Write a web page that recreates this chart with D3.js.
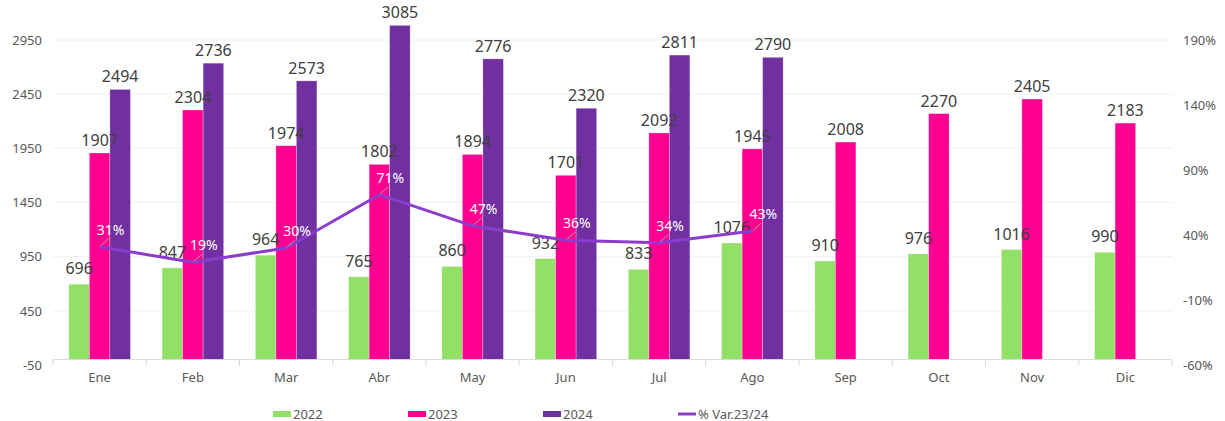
<!DOCTYPE html>
<html>
<head>
<meta charset="utf-8">
<script src="https://cdn.jsdelivr.net/npm/d3@7"></script>
<style>
  body { margin: 0; background: #fff; }
  svg { display: block; font-family: "Noto Sans", "Open Sans", sans-serif; }
</style>
</head>
<body>
<svg width="1225" height="421"></svg>
<script>
// data
var months = ["Ene", "Feb", "Mar", "Abr", "May", "Jun", "Jul", "Ago", "Sep", "Oct", "Nov", "Dic"];
var series = ["2022", "2023", "2024"];
var v2022 = [696, 847, 964, 765, 860, 932, 833, 1076, 910, 976, 1016, 990];
var v2023 = [1907, 2304, 1974, 1802, 1894, 1701, 2092, 1945, 2008, 2270, 2405, 2183];
var v2024 = [2494, 2736, 2573, 3085, 2776, 2320, 2811, 2790];
var variacion = [31, 19, 30, 71, 47, 36, 34, 43];
var leftTicks = [-50, 450, 950, 1450, 1950, 2450, 2950];
var rightTicks = [-60, -10, 40, 90, 140, 190];
var lineName = "% Var.23/24";

var colors = { "2022": "#92e068", "2023": "#ff0090", "2024": "#7030a0" };
var lineColor = "#8b3ccc";

var svg = d3.select("svg");

var x = d3.scaleBand().domain(months).range([53, 1172]).padding(0);
var y = d3.scaleLinear().domain([-50, 2950]).range([365, 40]);
var yR = d3.scaleLinear().domain([-60, 190]).range([365, 40]);
var groupW = x.bandwidth() * 0.66;
var x1 = d3.scaleBand().domain(series).range([-groupW / 2, groupW / 2]);

// gridlines
svg.append("g").selectAll("line")
  .data(leftTicks.filter(function (t) { return t > 0; }))
  .join("line")
  .attr("x1", 53).attr("x2", 1172)
  .attr("y1", function (d) { return y(d); })
  .attr("y2", function (d) { return y(d); })
  .attr("stroke", "#f0f0f0").attr("stroke-width", 1);

// left axis
var leftAxis = d3.axisLeft(y).tickValues(leftTicks).tickSize(0).tickPadding(0)
  .tickFormat(function (d) { return String(d); });
var gl = svg.append("g").attr("transform", "translate(42,0)").call(leftAxis);
gl.select(".domain").remove();
gl.selectAll("text").attr("font-size", 13).attr("fill", "#595959")
  .attr("font-family", "Noto Sans");

// right axis
var rightAxis = d3.axisRight(yR).tickValues(rightTicks).tickSize(0).tickPadding(0)
  .tickFormat(function (d) { return String(d) + "%"; });
var gr = svg.append("g").attr("transform", "translate(1183,0)").call(rightAxis);
gr.select(".domain").remove();
gr.selectAll("text").attr("font-size", 13).attr("fill", "#595959")
  .attr("font-family", "Noto Sans");

// rows
var rows = months.map(function (m, i) {
  return { month: m, "2022": v2022[i], "2023": v2023[i], "2024": v2024[i] };
});

// bars
var groups = svg.append("g").selectAll("g")
  .data(rows).join("g")
  .attr("transform", function (d) { return "translate(" + (x(d.month) + x.bandwidth() / 2) + ",0)"; });

groups.selectAll("rect")
  .data(function (d) {
    return series.filter(function (s) { return d[s] != null; })
      .map(function (s) { return { key: s, value: d[s] }; });
  })
  .join("rect")
  .attr("x", function (d) { return x1(d.key); })
  .attr("width", x1.bandwidth())
  .attr("y", function (d) { return y(d.value); })
  .attr("height", function (d) { return y(0) - y(d.value); })
  .attr("fill", function (d) { return colors[d.key]; })
  .attr("stroke", "rgba(255,255,255,0.35)").attr("stroke-width", 0.8);

// bar labels
groups.selectAll("text")
  .data(function (d) {
    return series.filter(function (s) { return d[s] != null; })
      .map(function (s) { return { key: s, value: d[s] }; });
  })
  .join("text")
  .attr("x", function (d) { return x1(d.key) + x1.bandwidth() / 2; })
  .attr("y", function (d) { return y(d.value) - (d.key === "2022" ? 10 : 7); })
  .attr("text-anchor", "middle")
  .attr("font-size", 16)
  .attr("fill", "#404040")
  .text(function (d) { return d.value; });

// x axis
var xAxisY = y(0);
svg.append("line")
  .attr("x1", 53).attr("x2", 1172)
  .attr("y1", xAxisY).attr("y2", xAxisY)
  .attr("stroke", "#d9d9d9").attr("stroke-width", 1);
svg.append("g").selectAll("line")
  .data(months.concat(["end"]))
  .join("line")
  .attr("x1", function (d, i) { return 53 + i * x.step(); })
  .attr("x2", function (d, i) { return 53 + i * x.step(); })
  .attr("y1", xAxisY).attr("y2", xAxisY + 6)
  .attr("stroke", "#d9d9d9");
svg.append("g").selectAll("text")
  .data(months).join("text")
  .attr("x", function (d) { return x(d) + x.bandwidth() / 2; })
  .attr("y", xAxisY + 22)
  .attr("text-anchor", "middle")
  .attr("font-size", 13)
  .attr("fill", "#595959")
  .text(function (d) { return d; });

// variation line
var linePts = variacion.map(function (v, i) { return { month: months[i], value: v }; });
var line = d3.line()
  .x(function (d) { return x(d.month) + x.bandwidth() / 2; })
  .y(function (d) { return yR(d.value); });
svg.append("path")
  .datum(linePts)
  .attr("d", line)
  .attr("fill", "none")
  .attr("stroke", lineColor)
  .attr("stroke-width", 3)
  .attr("stroke-linejoin", "round");

// leader lines + % labels
svg.append("g").selectAll("line")
  .data(linePts).join("line")
  .attr("x1", function (d) { return x(d.month) + x.bandwidth() / 2 + 1; })
  .attr("y1", function (d) { return yR(d.value) - 1; })
  .attr("x2", function (d) { return x(d.month) + x.bandwidth() / 2 + 9; })
  .attr("y2", function (d) { return yR(d.value) - 8; })
  .attr("stroke", "#a6a6a6").attr("stroke-width", 1);
svg.append("g").selectAll("text")
  .data(linePts).join("text")
  .attr("x", function (d) { return x(d.month) + x.bandwidth() / 2 + 11; })
  .attr("y", function (d) { return yR(d.value) - 12; })
  .attr("text-anchor", "middle")
  .attr("font-size", 14)
  .attr("fill", "#ffffff")
  .text(function (d) { return d.value + "%"; });

// legend
var legendItems = series.concat([lineName]);
var legend = svg.append("g").selectAll("g")
  .data(legendItems).join("g")
  .attr("transform", function (d, i) { return "translate(" + (273 + i * 135) + ",414)"; });
legend.append("rect")
  .attr("x", 0).attr("y", function (d) { return d === lineName ? -1.5 : -3; })
  .attr("width", 18).attr("height", function (d) { return d === lineName ? 3 : 6; })
  .attr("fill", function (d) { return d === lineName ? lineColor : colors[d]; });
legend.append("text")
  .attr("x", 20).attr("y", 4.5)
  .attr("font-size", 13)
  .attr("fill", "#595959")
  .text(function (d) { return d; });
</script>
</body>
</html>
